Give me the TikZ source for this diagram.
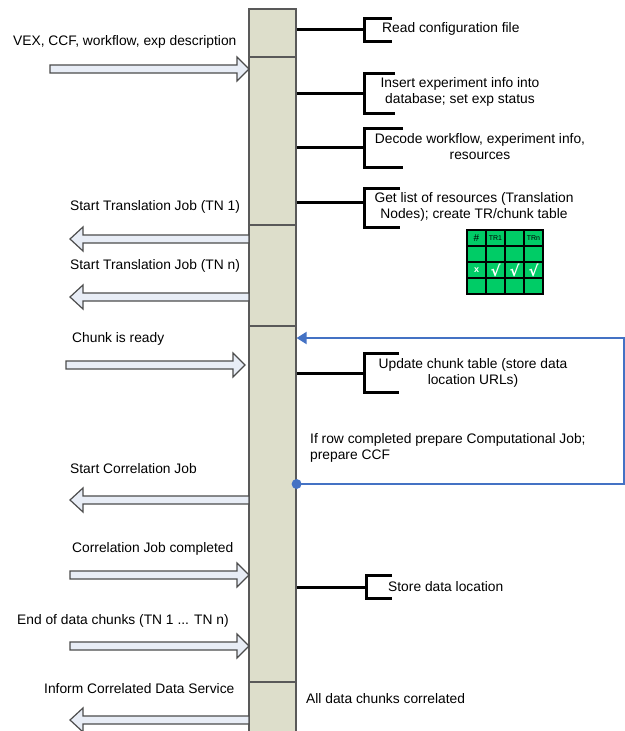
\documentclass[tikz,border=0pt]{standalone}
\usepackage{fontspec}
\setmainfont{Liberation Sans}
\newfontfamily\symfont{DejaVu Sans}
\usepackage{tikz}
\usetikzlibrary{arrows.meta}

\definecolor{barfill}{RGB}{221,222,203}
\definecolor{arrowfill}{RGB}{232,237,246}
\definecolor{linkblue}{RGB}{68,114,196}
\definecolor{tablegreen}{RGB}{0,204,102}

\tikzset{
  lane/.style={draw=black!65, fill=barfill, line width=1.2pt, minimum width=47pt, inner sep=0pt},
  blockarrow/.style={draw=black!70, fill=arrowfill, line width=1.2pt},
  bracketline/.style={draw=black, line width=3pt},
  msg/.style={inner sep=0pt, font=\fontsize{13.8}{16}\selectfont},
  cell/.style={inner sep=0pt, font=\fontsize{7}{7}\selectfont},
}

\begin{document}
\begin{tikzpicture}[x=1pt,y=-1pt]
\useasboundingbox (0,0) rectangle (624,731);

% Lane
\node [lane, minimum height=48pt]  (s1) at (272.5,33) {};
\node [lane, minimum height=168pt] (s2) at (272.5,141) {};
\node [lane, minimum height=101pt] (s3) at (272.5,275.5) {};
\node [lane, minimum height=356pt] (s4) at (272.5,504) {};
\node [lane, minimum height=60pt]  (s5) at (272.5,712) {};

% Text Node
\node [msg, anchor=west] (vex) at (13,42) {VEX, CCF, workflow, exp description};
% Text Node
\node [msg, anchor=west] (tn1) at (70,207) {Start Translation Job (TN 1)};
% Text Node
\node [msg, anchor=west] (tnn) at (70,266) {Start Translation Job (TN n)};
% Text Node
\node [msg, anchor=west] (ready) at (72,339) {Chunk is ready};
% Text Node
\node [msg, anchor=west] (startcorr) at (70,469) {Start Correlation Job};
% Text Node
\node [msg, anchor=west] (donecorr) at (72,549) {Correlation Job completed};
% Text Node
\node [msg, anchor=west] (endchunks) at (17,621) {End of data chunks (TN 1 ... TN n)};
% Text Node
\node [msg, anchor=west] (inform) at (44,689) {Inform Correlated Data Service};
% Text Node
\node [msg, anchor=west] (allcorr) at (306,699) {All data chunks correlated};

% Text Node
\node [msg, anchor=west] (readcfg) at (382,29) {Read configuration file};
% Text Node
\node [msg, align=center] (insert) at (460,92) {Insert experiment info into\\database; set exp status};
% Text Node
\node [msg, align=center] (decode) at (480,147) {Decode workflow, experiment info,\\resources};
% Text Node
\node [msg, align=center] (getlist) at (474,207) {Get list of resources (Translation\\Nodes); create TR/chunk table};
% Text Node
\node [msg, align=center] (update) at (473,373) {Update chunk table (store data\\location URLs)};
% Text Node
\node [msg, align=left, anchor=west] (ifrow) at (310,448) {If row completed prepare Computational Job;\\prepare CCF};
% Text Node
\node [msg, anchor=west] (store) at (388,587) {Store data location};

% Block Arrow
\draw [blockarrow] (50,65) -- ++(187,0) -- ++(0,-8) -- ++(12,12) -- ++(-12,12) -- ++(0,-8) -- ++(-187,0) -- cycle;
% Block Arrow
\draw [blockarrow] (249,235) -- ++(-166,0) -- ++(0,-8) -- ++(-13,12) -- ++(13,12) -- ++(0,-8) -- ++(166,0) -- cycle;
% Block Arrow
\draw [blockarrow] (249,293) -- ++(-166,0) -- ++(0,-8) -- ++(-13,12) -- ++(13,12) -- ++(0,-8) -- ++(166,0) -- cycle;
% Block Arrow
\draw [blockarrow] (66,361) -- ++(167,0) -- ++(0,-8) -- ++(12,12) -- ++(-12,12) -- ++(0,-8) -- ++(-167,0) -- cycle;
% Block Arrow
\draw [blockarrow] (249,496) -- ++(-166,0) -- ++(0,-8) -- ++(-13,12) -- ++(13,12) -- ++(0,-8) -- ++(166,0) -- cycle;
% Block Arrow
\draw [blockarrow] (70,571) -- ++(167,0) -- ++(0,-8) -- ++(12,12) -- ++(-12,12) -- ++(0,-8) -- ++(-167,0) -- cycle;
% Block Arrow
\draw [blockarrow] (70,642) -- ++(167,0) -- ++(0,-8) -- ++(12,12) -- ++(-12,12) -- ++(0,-8) -- ++(-167,0) -- cycle;
% Block Arrow
\draw [blockarrow] (249,716) -- ++(-166,0) -- ++(0,-8) -- ++(-13,12) -- ++(13,12) -- ++(0,-8) -- ++(166,0) -- cycle;

% Connection
\draw [bracketline] (s1.east |- 0,29) -- (364,29) (392,18) -- (364,18) -- (364,41) -- (392,41);
% Connection
\draw [bracketline] (s2.east |- 0,93) -- (364,93) (395,73) -- (364,73) -- (364,113) -- (395,113);
% Connection
\draw [bracketline] (s2.east |- 0,147) -- (364,147) (403,128) -- (364,128) -- (364,167) -- (403,167);
% Connection
\draw [bracketline] (s2.east |- 0,202) -- (364,202) (400,188) -- (364,188) -- (364,227) -- (400,227);
% Connection
\draw [bracketline] (s4.east |- 0,373) -- (364,373) (399,353) -- (364,353) -- (364,392) -- (399,392);
% Connection
\draw [bracketline] (s4.east |- 0,587) -- (366,587) (392,575) -- (366,575) -- (366,598) -- (392,598);

% Loop back
\coordinate (loopstart) at (s4.east |- 0,484);
\coordinate (loopend) at (s4.east |- 0,338);
\fill [linkblue] (loopstart) circle (5);
\draw [linkblue, line width=2pt, -{Triangle[width=12pt,length=10pt]}] (loopstart) -- (624,484) -- (624,338) -- (loopend);

% Chunk table
\fill [tablegreen] (467,230) rectangle (543,294);
\draw [line width=1.4pt] (467,230) rectangle (543,294);
\draw [line width=1.4pt] (486,230) -- (486,294) (505,230) -- (505,294) (524,230) -- (524,294);
\draw [line width=1.4pt] (467,246) -- (543,246) (467,262) -- (543,262) (467,278) -- (543,278);
\node [cell, font=\fontsize{10}{10}\selectfont] (hash) at (476.5,238) {\#};
\node [cell] (tr1) at (495.5,238) {TR1};
\node [cell] (trn) at (533.5,238) {TRn};
\node [cell, text=white, font=\bfseries\fontsize{9}{9}\selectfont] (xrow) at (476.5,270) {x};
\node [cell, text=white, font=\symfont\bfseries\fontsize{15}{15}\selectfont] (ck1) at (495.5,270) {√};
\node [cell, text=white, font=\symfont\bfseries\fontsize{15}{15}\selectfont] (ck2) at (514.5,270) {√};
\node [cell, text=white, font=\symfont\bfseries\fontsize{15}{15}\selectfont] (ck3) at (533.5,270) {√};

\end{tikzpicture}
\end{document}
